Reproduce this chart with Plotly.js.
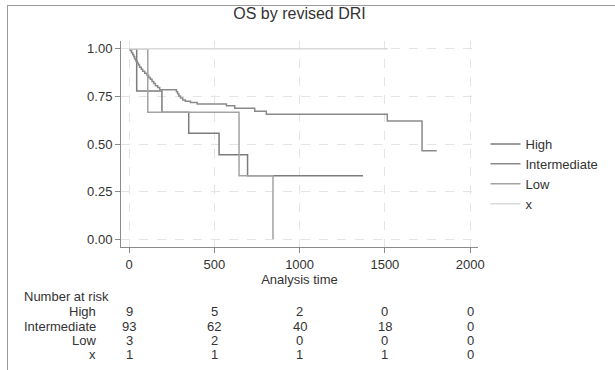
<!DOCTYPE html>
<html>
<head>
<meta charset="utf-8">
<script src="https://cdn.plot.ly/plotly-3.0.1.min.js"></script>
<style>
  html, body { margin: 0; padding: 0; background: #fff; }
  #wrap { position: relative; width: 615px; height: 370px; }
  #chart { position: absolute; left: 0; top: 0; width: 615px; height: 370px; }
  #frame { position: absolute; left: 7px; top: 5px; right: 0; bottom: 0;
           border-left: 1px solid #9a9a9a; border-top: 1px solid #9a9a9a; pointer-events: none; }
</style>
</head>
<body>
<div id="wrap"><div id="chart"></div><div id="frame"></div></div>
<script>
// ---- Data ----
const groupNames = ["High", "Intermediate", "Low", "x"];

const highTimes = [0, 45, 193, 350, 528, 695, 1372];
const highSurv  = [1.0, 0.778, 0.667, 0.556, 0.444, 0.333, 0.333];

const intTimes = [0, 8, 15, 22, 28, 33, 40, 48, 55, 62, 72, 80, 92, 105, 115, 125, 135, 145, 155, 168, 180,
                  278, 285, 292, 302, 315, 330, 360, 400, 571, 620, 737, 805, 1514, 1718, 1804];
const intSurv  = [1.0, 0.989, 0.978, 0.968, 0.957, 0.946, 0.935, 0.925, 0.914, 0.903, 0.892, 0.882, 0.871, 0.860, 0.849, 0.839, 0.828, 0.817, 0.806, 0.796, 0.785,
                  0.774, 0.763, 0.752, 0.741, 0.731, 0.724, 0.717, 0.710, 0.700, 0.688, 0.672, 0.656, 0.620, 0.465, 0.465];

const lowTimes = [0, 110, 645, 844];
const lowSurv  = [1.0, 0.667, 0.333, 0.0];

const xTimes = [0, 1518];
const xSurv  = [1.0, 1.0];

const riskTimes = [0, 500, 1000, 1500, 2000];
const riskHigh  = [9, 5, 2, 0, 0];
const riskInt   = [93, 62, 40, 18, 0];
const riskLow   = [3, 2, 0, 0, 0];
const riskX     = [1, 1, 1, 1, 0];

const xTickVals = [0, 500, 1000, 1500, 2000];
const yTickVals = [0, 0.25, 0.5, 0.75, 1.0];

// ---- Styling ----
const colors = ["#7c7c7c", "#8a8a8a", "#a3a3a3", "#dadada"];
const textColor = "#333333";
const font = "Liberation Sans, Arial, sans-serif";

const series = [[highTimes, highSurv], [intTimes, intSurv], [lowTimes, lowSurv], [xTimes, xSurv]];
const traces = series.map((s, i) => ({
  type: "scatter", mode: "lines",
  x: s[0], y: s[1], name: groupNames[i],
  line: { shape: "hv", color: colors[i], width: 1.5 },
  hoverinfo: "skip"
}));

const plotH = 206, plotTop = 41;
function py(pix) { return (plotTop + plotH - pix) / plotH; } // pixel -> paper y

const annotations = [];
annotations.push({ xref: "paper", yref: "paper", x: -0.277, y: py(296), xanchor: "left", yanchor: "middle",
  text: "Number at risk", showarrow: false, font: { family: font, size: 13, color: textColor } });
const riskRows = [riskHigh, riskInt, riskLow, riskX];
const rowY = [311, 326, 340, 354];
riskRows.forEach((row, r) => {
  annotations.push({ xref: "paper", yref: "paper", x: -0.064, y: py(rowY[r]), xanchor: "right", yanchor: "middle",
    text: groupNames[r], showarrow: false, font: { family: font, size: 13, color: textColor } });
  row.forEach((v, k) => {
    annotations.push({ xref: "x", yref: "paper", x: riskTimes[k], y: py(rowY[r]), xanchor: "center", yanchor: "middle",
      text: String(v), showarrow: false, font: { family: font, size: 13, color: textColor } });
  });
});

const layout = {
  width: 615, height: 370,
  margin: { l: 121, r: 137, t: plotTop, b: 370 - plotTop - plotH, pad: 0 },
  paper_bgcolor: "rgba(0,0,0,0)", plot_bgcolor: "#ffffff",
  font: { family: font, size: 13, color: textColor },
  title: { text: "OS by revised DRI", font: { family: font, size: 16, color: textColor },
           x: 0.5, xref: "paper", xanchor: "center", y: 0.963, yanchor: "middle" },
  showlegend: true,
  legend: { x: 1.021, y: py(129), xanchor: "left", yanchor: "top", bgcolor: "rgba(0,0,0,0)",
            font: { family: font, size: 13, color: textColor }, tracegroupgap: 0 },
  xaxis: {
    range: [-47, 2046], tickvals: xTickVals, ticktext: xTickVals.map(String),
    showline: true, linecolor: "#8a8a8a", linewidth: 1, mirror: false,
    ticks: "outside", ticklen: 5, tickcolor: "#8a8a8a", tickwidth: 1,
    showgrid: true, gridcolor: "#e4e4e4", griddash: "dash", gridwidth: 1,
    zeroline: false, tickfont: { family: font, size: 13, color: textColor },
    title: { text: "Analysis time", font: { family: font, size: 13, color: textColor }, standoff: 1 }
  },
  yaxis: {
    range: [-0.04, 1.04], tickvals: yTickVals, ticktext: yTickVals.map(v => v.toFixed(2)),
    showline: true, linecolor: "#8a8a8a", linewidth: 1,
    ticks: "outside", ticklen: 5, tickcolor: "#8a8a8a", tickwidth: 1,
    showgrid: true, gridcolor: "#e4e4e4", griddash: "dash", gridwidth: 1,
    zeroline: false, tickfont: { family: font, size: 13, color: textColor }
  },
  annotations: annotations
};

Plotly.newPlot("chart", traces, layout, { staticPlot: true, displayModeBar: false });
</script>
</body>
</html>
